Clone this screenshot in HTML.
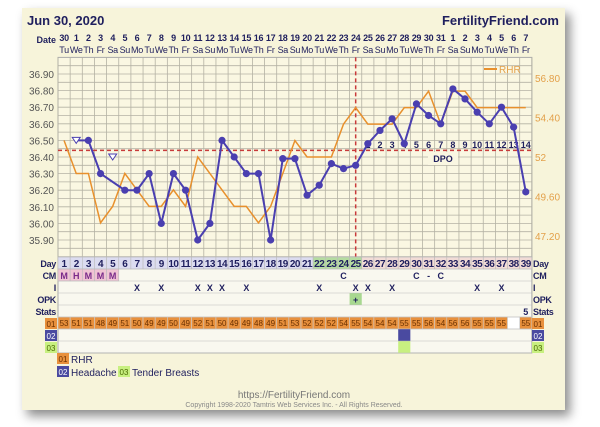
<!DOCTYPE html>
<html><head><meta charset="utf-8">
<style>
html,body{margin:0;padding:0;background:#fff;}
body{width:600px;height:427px;overflow:hidden;position:relative;font-family:"Liberation Sans",sans-serif;}
#card{position:absolute;left:22px;top:8px;width:543px;height:402px;background:#f7f4da;box-shadow:5px 6px 10px rgba(0,0,0,0.45);}
svg{position:absolute;left:0;top:0;}
</style></head>
<body>
<div id="card"></div>
<svg id="c" width="600" height="427"></svg>
<script>
const days=[1,2,3,4,5,6,7,8,9,10,11,12,13,14,15,16,17,18,19,20,21,22,23,24,25,26,27,28,29,30,31,32,33,34,35,36,37,38,39];
const dates=["30","1","2","3","4","5","6","7","8","9","10","11","12","13","14","15","16","17","18","19","20","21","22","23","24","25","26","27","28","29","30","31","1","2","3","4","5","6","7"];
const weekdays=["Tu","We","Th","Fr","Sa","Su","Mo","Tu","We","Th","Fr","Sa","Su","Mo","Tu","We","Th","Fr","Sa","Su","Mo","Tu","We","Th","Fr","Sa","Su","Mo","Tu","We","Th","Fr","Sa","Su","Mo","Tu","We","Th","Fr"];
const temps=[null,36.50,36.50,36.30,36.40,36.20,36.20,36.30,36.00,36.30,36.20,35.90,36.00,36.50,36.40,36.30,36.30,35.90,36.39,36.39,36.17,36.23,36.36,36.33,36.35,36.48,36.56,36.63,36.48,36.72,36.65,36.60,36.81,36.75,36.67,36.60,36.70,36.58,36.19];
const excluded=[2,5];
const rhr=[53,51,51,48,49,51,50,49,49,50,49,52,51,50,49,49,48,49,51,53,52,52,52,54,55,54,54,54,55,55,56,54,56,56,55,55,55,null,55];
const tempTicks=[36.90,36.80,36.70,36.60,36.50,36.40,36.30,36.20,36.10,36.00,35.90];
const rhrTicks=["56.80","54.40","52","49.60","47.20"];
const coverline=36.44;
const ovDay=25;
const cm={1:"M",2:"H",3:"M",4:"M",5:"M",24:"C",30:"C",31:"-",32:"C"};
const intercourse=[7,9,12,13,14,16,22,25,26,28,35,37];
const opk={25:"+"};
const stats={39:"5"};
const headache=[29];
const tender=[29];

const NS="http://www.w3.org/2000/svg";
const svg=document.getElementById('c');
const X0=58,CW=12.15,TOP=57.4,BOT=257;
const x=d=>X0+(d-0.5)*CW;
const yT=t=>74+(36.90-t)*166;
const yR=r=>157-(r-52)*16.46;
function el(tag,attrs,parent){const e=document.createElementNS(NS,tag);for(const k in attrs)e.setAttribute(k,attrs[k]);(parent||svg).appendChild(e);return e;}
function txt(s,attrs,parent){const e=el('text',attrs,parent);e.textContent=s;return e;}
const navy="#1f1f5e";
let t=txt("Jun 30, 2020",{x:27,y:25,"font-size":13,"font-weight":"bold",fill:navy});

t=txt("FertilityFriend.com",{x:559,y:25,"font-size":13,"font-weight":"bold",fill:navy,"text-anchor":"end"});

t=txt("Date",{x:56,y:43,"font-size":9,"font-weight":"bold",fill:navy,"text-anchor":"end"});

days.forEach((d,i)=>{
 let a=txt(dates[i],{x:x(d),y:41,"font-size":9,"font-weight":"bold",fill:navy,"text-anchor":"middle","letter-spacing":"-0.3"});
 
 let b=txt(weekdays[i],{x:x(d),y:53,"font-size":9,fill:navy,"text-anchor":"middle","letter-spacing":"-0.3"});
 
});
let bg=el('rect',{x:X0,y:TOP,width:39*CW,height:BOT-TOP,fill:"#faf7e2",stroke:"#aaa","stroke-width":1});

const grid=el('g',{stroke:"#b4b2a4","stroke-width":0.8});

for(let i=0;i<=39;i++)el('line',{x1:X0+i*CW,x2:X0+i*CW,y1:TOP,y2:353},grid);
for(let v=36.95;v>=35.79;v-=0.05){const yy=yT(v);el('line',{x1:X0,x2:X0+39*CW,y1:yy,y2:yy},grid);}
tempTicks.forEach(v=>{let a=txt(v.toFixed(2),{x:54,y:yT(v)+4,"font-size":10,fill:"#555","text-anchor":"end"});
 });
rhrTicks.forEach(v=>{let a=txt(v,{x:535,y:yR(parseFloat(v))+4,"font-size":10,fill:"#e3a04a"});
 });
let lg=el('line',{x1:484,x2:497,y1:69,y2:69,stroke:"#e8902c","stroke-width":2});

t=txt("RHR",{x:499,y:73,"font-size":10,fill:"#e3a04a"});

let cl=el('line',{x1:X0,x2:X0+39*CW,y1:yT(coverline),y2:yT(coverline),stroke:"#c83a3a","stroke-width":1.5,"stroke-dasharray":"4,3"});

let ov=el('line',{x1:x(ovDay),x2:x(ovDay),y1:TOP,y2:269,stroke:"#c83a3a","stroke-width":1.5,"stroke-dasharray":"4,3"});

let db=el('rect',{x:428,y:152,width:30,height:13,fill:"#faf7e2"});

t=txt("DPO",{x:443,y:162,"font-size":9,"font-weight":"bold",fill:navy,"text-anchor":"middle"});

days.filter(d=>d>ovDay).forEach(d=>{let a=txt(String(d-ovDay),{x:x(d),y:148,"font-size":9,"font-weight":"bold",fill:navy,"text-anchor":"middle"});
 });
let pts=[];days.forEach((d,i)=>{if(rhr[i]!=null)pts.push(x(d)+","+yR(rhr[i]));});
let rl=el('polyline',{points:pts.join(" "),fill:"none",stroke:"#e8902c","stroke-width":1.5});

pts=[];days.forEach((d,i)=>{if(temps[i]!=null&&!excluded.includes(d))pts.push(x(d)+","+yT(temps[i]));});
let tl=el('polyline',{points:pts.join(" "),fill:"none",stroke:"#4a3fb0","stroke-width":2});

let ex=el('line',{x1:x(2),y1:yT(temps[1]),x2:x(3),y2:yT(temps[2]),stroke:"#4a3fb0","stroke-width":2});

days.forEach((d,i)=>{if(temps[i]==null)return;const cx=x(d),cy=yT(temps[i]);
 if(excluded.includes(d)){let p=el('polygon',{points:`${cx-4},${cy-3} ${cx+4},${cy-3} ${cx},${cy+3}`,fill:"#fff",stroke:"#4a3fb0","stroke-width":1});
  }
 else{let c=el('circle',{cx:cx,cy:cy,r:3.6,fill:"#4a3fb0"});
  }
});
const rowsY=[257,269,281,293,305,317,329,341];
const tw=39*CW;
let tb=el('rect',{x:X0,y:257,width:tw,height:96,fill:"#f9f8ef",stroke:"#aaa"});

days.forEach(d=>{
 const c=d<=21?"#dcdcf0":(d<=25?"#b5dca0":"#f2dcd6");
 let r=el('rect',{x:X0+(d-1)*CW,y:257,width:CW,height:12,fill:c,stroke:"#bbb","stroke-width":0.6});
 
 let a=txt(String(d),{x:x(d),y:267,"font-size":10,"font-weight":"bold",fill:navy,"text-anchor":"middle","letter-spacing":"-0.5"});
 
 if(cm[d]){ if(d<=5){let r2=el('rect',{x:X0+(d-1)*CW,y:269,width:CW,height:12,fill:"#f0c4d4",stroke:"#bbb","stroke-width":0.6});
   }
  let b=txt(cm[d],{x:x(d),y:279,"font-size":9,"font-weight":"bold",fill:d<=5?"#7a2a8a":navy,"text-anchor":"middle"});
  }
 if(intercourse.includes(d)){let b=txt("X",{x:x(d),y:291,"font-size":9,"font-weight":"bold",fill:navy,"text-anchor":"middle"});
  }
 if(opk[d]){let r2=el('rect',{x:X0+(d-1)*CW,y:293,width:CW,height:12,fill:"#a8d890"});
  
  let b=txt(opk[d],{x:x(d),y:303,"font-size":9,"font-weight":"bold",fill:navy,"text-anchor":"middle"});
  }
 if(stats[d]){let b=txt(stats[d],{x:x(d),y:315,"font-size":9,"font-weight":"bold",fill:navy,"text-anchor":"middle"});
  }
 const rv=rhr[d-1];
 let r3=el('rect',{x:X0+(d-1)*CW,y:317,width:CW,height:12,fill:rv==null?"#ffffff":"#e8903c",stroke:"#ccc","stroke-width":0.6});
 
 if(rv!=null){let b=txt(String(rv),{x:x(d),y:326,"font-size":8,fill:"#6a3000","text-anchor":"middle"});
  }
 if(headache.includes(d)){let r4=el('rect',{x:X0+(d-1)*CW,y:329,width:CW,height:12,fill:"#4a4aa0"});
  }
 if(tender.includes(d)){let r5=el('rect',{x:X0+(d-1)*CW,y:341,width:CW,height:12,fill:"#c8f080"});
  }
});
const tg=el('g',{stroke:"#bbb","stroke-width":0.6});

rowsY.forEach(yy=>el('line',{x1:X0,x2:X0+tw,y1:yy,y2:yy},tg));
el('line',{x1:X0,x2:X0+tw,y1:353,y2:353},tg);
const labs=["Day","CM","I","OPK","Stats"];
labs.forEach((l,i)=>{
 let a=txt(l,{x:56,y:267+i*12,"font-size":9,"font-weight":"bold",fill:navy,"text-anchor":"end","letter-spacing":"-0.3"});
 
 let b=txt(l,{x:533,y:267+i*12,"font-size":9,"font-weight":"bold",fill:navy,"letter-spacing":"-0.3"});
 
});
const tagCols=["#e8903c","#4a4aa0","#c8f080"],tagTxt=["#6a3000","#fff","#4a6a00"];
[0,1,2].forEach(i=>{
 [[45,"left"],[532,"right"]].forEach(([xx,side])=>{
  let r=el('rect',{x:xx,y:318+i*12,width:12,height:11,fill:tagCols[i]});
  
  let a=txt("0"+(i+1),{x:xx+6,y:327+i*12,"font-size":8,fill:tagTxt[i],"text-anchor":"middle"});
  
 });
});
const leg=[["01","RHR",57,359,0],["02","Headache",57,372,1],["03","Tender Breasts",118,372,2]];
leg.forEach(([n,l,xx,yy,i])=>{
 let r=el('rect',{x:xx,y:yy-6,width:12,height:11,fill:tagCols[i]});
 
 let a=txt(n,{x:xx+6,y:yy+3,"font-size":8,fill:tagTxt[i],"text-anchor":"middle"});
 
 let b=txt(l,{x:xx+14,y:yy+4,"font-size":10,fill:navy});
 
});
t=txt("https://FertilityFriend.com",{x:294,y:398,"font-size":10,fill:"#777","text-anchor":"middle"});

t=txt("Copyright 1998-2020 Tamtris Web Services Inc. - All Rights Reserved.",{x:294,y:407,"font-size":7,fill:"#888","text-anchor":"middle"});

</script>
</body></html>
